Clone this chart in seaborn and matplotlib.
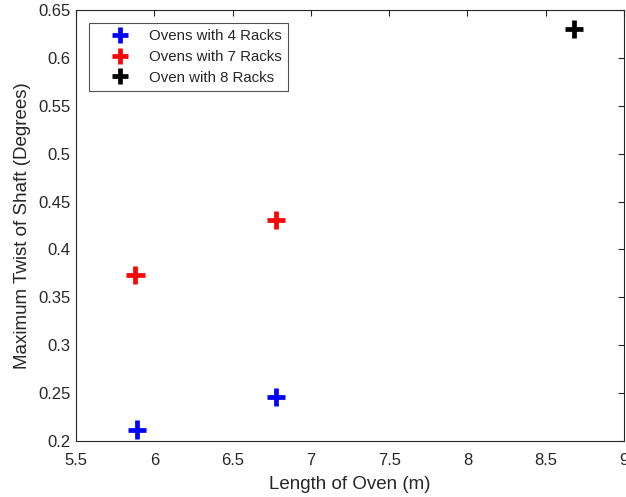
import matplotlib
matplotlib.use("Agg")
import matplotlib.pyplot as plt
import seaborn as sns
import pandas as pd

# data
length_4 = [5.89, 6.78]
twist_4 = [0.212, 0.246]
length_7 = [5.88, 6.78]
twist_7 = [0.373, 0.431]
length_8 = [8.68]
twist_8 = [0.630]
labels = ["Ovens with 4 Racks", "Ovens with 7 Racks", "Oven with 8 Racks"]
colors = ["#0000ff", "#ff0000", "#000000"]

df = pd.DataFrame({
    "length": length_4 + length_7 + length_8,
    "twist": twist_4 + twist_7 + twist_8,
    "group": [labels[0]] * len(length_4) + [labels[1]] * len(length_7) + [labels[2]] * len(length_8),
})

sns.set_style("white")
plt.rcParams["font.family"] = ["Liberation Sans", "DejaVu Sans"]

fig = plt.figure(figsize=(6.26, 4.97), dpi=100)
ax = fig.add_axes([76 / 626, 56 / 497, 548 / 626, 431 / 497])

sns.scatterplot(data=df, x="length", y="twist", hue="group", hue_order=labels,
                palette=colors, marker="+", s=170, linewidth=3.4, ax=ax)

ax.set_xlim(5.5, 9)
ax.set_ylim(0.2, 0.65)
ax.set_xticks([5.5, 6, 6.5, 7, 7.5, 8, 8.5, 9])
ax.set_xticklabels(["5.5", "6", "6.5", "7", "7.5", "8", "8.5", "9"])
ax.set_yticks([0.2, 0.25, 0.3, 0.35, 0.4, 0.45, 0.5, 0.55, 0.6, 0.65])
ax.set_yticklabels(["0.2", "0.25", "0.3", "0.35", "0.4", "0.45", "0.5", "0.55", "0.6", "0.65"])

gray = "#262626"
ax.tick_params(direction="in", length=4, width=0.8, top=True, right=True,
               labelsize=12, colors=gray, labelcolor=gray)
ax.tick_params(axis="x", pad=8.5)
ax.tick_params(axis="y", pad=4)
for s in ax.spines.values():
    s.set_color(gray)
    s.set_linewidth(0.8)

ax.set_xlabel("Length of Oven (m)", fontsize=13.5, color=gray, labelpad=6)
ax.set_ylabel("Maximum Twist of Shaft (Degrees)", fontsize=13.5, color=gray, labelpad=5)

leg = ax.legend(loc="upper left", bbox_to_anchor=(13 / 548, 418 / 431), fontsize=10.8,
                frameon=True, fancybox=False, edgecolor=gray, borderpad=0.4,
                handlelength=3.3, handletextpad=0.3, labelspacing=0.45, borderaxespad=0)
leg.get_frame().set_linewidth(0.8)
for h in leg.legend_handles:
    h.set_markeredgewidth(3.4)
    h.set_markersize(11)

fig.savefig("out.png", dpi=100)
